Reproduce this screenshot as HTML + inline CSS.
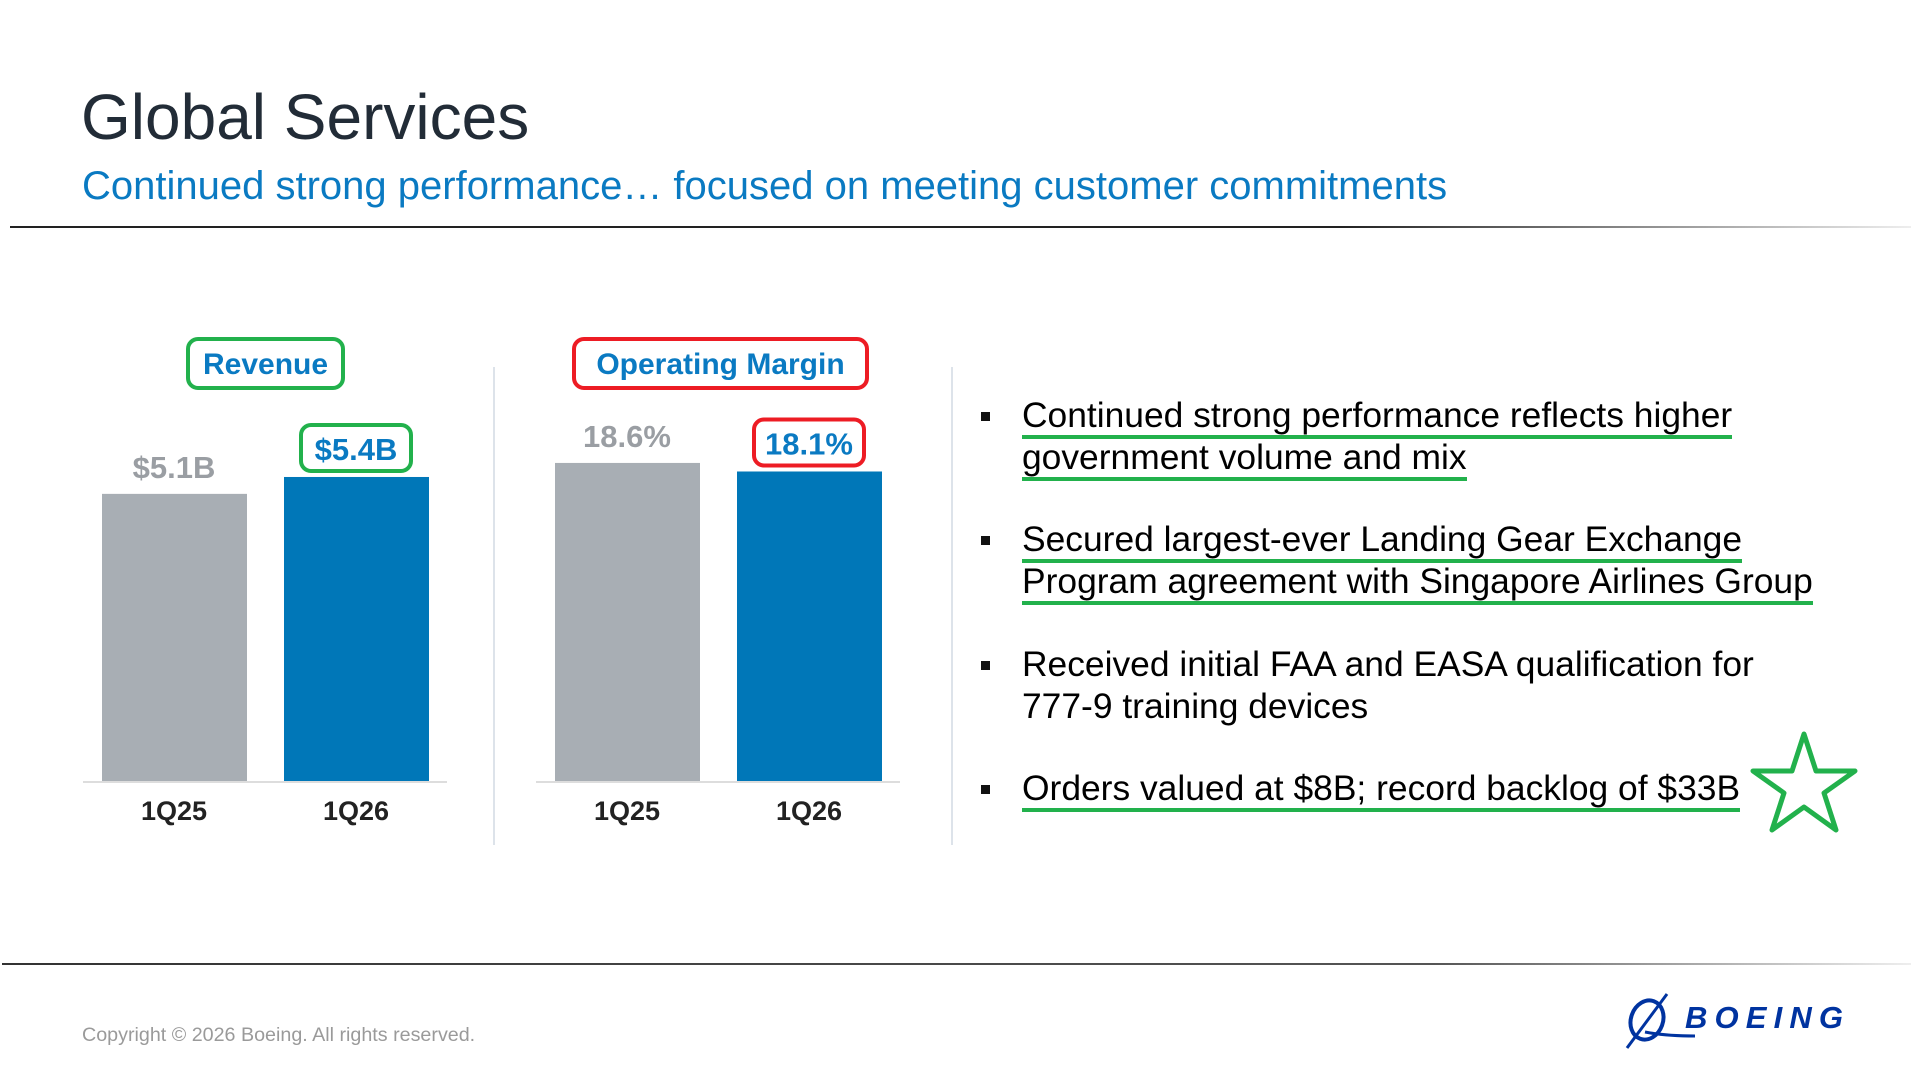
<!DOCTYPE html>
<html><head><meta charset="utf-8"><style>
body{margin:0;width:1911px;height:1073px;background:#fff;position:relative;overflow:hidden;font-family:"Liberation Sans",Arial,sans-serif}
.abs{position:absolute;white-space:nowrap}
.bul{position:absolute;left:981px;width:9px;height:9px;background:#111}
.tx{position:absolute;left:1022px;font-size:35.4px;color:#000;white-space:nowrap;line-height:42px}
.ul{border-bottom:4px solid #22b14c;padding-bottom:0px}
</style></head><body>
<div class="abs" style="left:81px;top:80px;font-size:64px;color:#222c37">Global Services</div>
<div class="abs" style="left:82px;top:164px;font-size:40px;color:#0a7ac2">Continued strong performance… focused on meeting customer commitments</div>
<div class="abs" style="left:10px;top:226px;width:1901px;height:2px;background:linear-gradient(90deg,#222 0%,#222 70%,#eee 100%)"></div>

<svg class="abs" style="left:0;top:0" width="960" height="900">
<g id="g"></g>
</svg>

<div class="bul" style="top:412px"></div>
<div class="tx" style="top:394px"><span class="ul">Continued strong performance reflects higher</span><br><span class="ul">government volume and mix</span></div>
<div class="bul" style="top:536px"></div>
<div class="tx" style="top:518px"><span class="ul">Secured largest-ever Landing Gear Exchange</span><br><span class="ul">Program agreement with Singapore Airlines Group</span></div>
<div class="bul" style="top:661px"></div>
<div class="tx" style="top:643px">Received initial FAA and EASA qualification for<br>777-9 training devices</div>
<div class="bul" style="top:785px"></div>
<div class="tx" style="top:767px"><span class="ul">Orders valued at $8B; record backlog of $33B</span></div>
<svg class="abs" style="left:1750px;top:730px" width="110" height="110">
<polygon points="54,4 66,41 105,41 74,63 86,100 54,77 22,100 34,63 3,41 42,41" fill="none" stroke="#22b14c" stroke-width="5" stroke-linejoin="round"/>
</svg>

<div class="abs" style="left:2px;top:963px;width:1909px;height:2px;background:linear-gradient(90deg,#333 0%,#555 75%,#eee 100%)"></div>
<div class="abs" style="left:82px;top:1024px;font-size:19.7px;color:#9a9a9a">Copyright © 2026 Boeing. All rights reserved.</div>
<svg class="abs" style="left:1615px;top:990px" width="240" height="65">
<ellipse cx="32" cy="30" rx="16" ry="20" fill="none" stroke="#0033a0" stroke-width="4" transform="rotate(20 32 30)"/>
<path d="M12 58 L52 4" stroke="#0033a0" stroke-width="3"/>
<path d="M30 42 Q50 46 80 46" stroke="#0033a0" stroke-width="3" fill="none"/>
<text x="70" y="38" font-family="Liberation Sans" font-weight="bold" font-style="italic" font-size="31" fill="#0033a0" letter-spacing="2" textLength="160">BOEING</text>
</svg>

<script>
const revCats=["1Q25","1Q26"];
const revVals=[5.1,5.4];
const revLabels=["$5.1B","$5.4B"];
const omCats=["1Q25","1Q26"];
const omVals=[18.6,18.1];
const omLabels=["18.6%","18.1%"];
const NS="http://www.w3.org/2000/svg";
const g=document.getElementById('g');
function mk(t,a){const e=document.createElementNS(NS,t);for(const k in a)e.setAttribute(k,a[k]);g.appendChild(e);return e;}
const base=781;
function chart(cats,vals,labels,x0,pxPer,title,boxCol,tx,tw,name){
  const ax=mk('line',{x1:x0-19,x2:x0+345,y1:base+1,y2:base+1,stroke:'#ddd','stroke-width':2});
  
  
  const tb=mk('rect',{x:tx,y:339,width:tw,height:49,rx:10,fill:'none',stroke:boxCol,'stroke-width':4});
  
  
  const tt=mk('text',{x:tx+tw/2,y:374,'text-anchor':'middle','font-size':30,'font-weight':'bold',fill:'#0a7ac2','font-family':'Liberation Sans'});
  tt.textContent=title;
  
  
  cats.forEach((c,i)=>{
    const bx=x0+i*182, h=vals[i]*pxPer, top=base-h;
    const b=mk('rect',{x:bx,y:top,width:145,height:h,fill:i==0?'#a8aeb4':'#0077b8'});
    
    
    const l=mk('text',{x:bx+72,y:810+10,'text-anchor':'middle','font-size':27,'font-weight':'bold',fill:'#222','font-family':'Liberation Sans'});
    l.textContent=c;
    
    
    if(i==1){
      const r=mk('rect',{x:bx+17,y:top-52,width:110,height:46,rx:10,fill:'none',stroke:boxCol,'stroke-width':4});
      
      
    }
    const v=mk('text',{x:bx+72,y:i==0?top-16:top-17,'text-anchor':'middle','font-size':31,'font-weight':'bold',fill:i==0?'#9a9ea3':'#0a7ac2','font-family':'Liberation Sans'});
    v.textContent=labels[i];
    
    
  });
}
chart(revCats,revVals,revLabels,102,56.3,'Revenue','#22b14c',188,155,'revenue');
chart(omCats,omVals,omLabels,555,17.1,'Operating Margin','#ed1c24',574,293,'margin');
[494,952].forEach((x,i)=>{
  const d=mk('line',{x1:x,x2:x,y1:367,y2:845,stroke:'#dde3ea','stroke-width':2});
  
  
});
</script>
</body></html>
